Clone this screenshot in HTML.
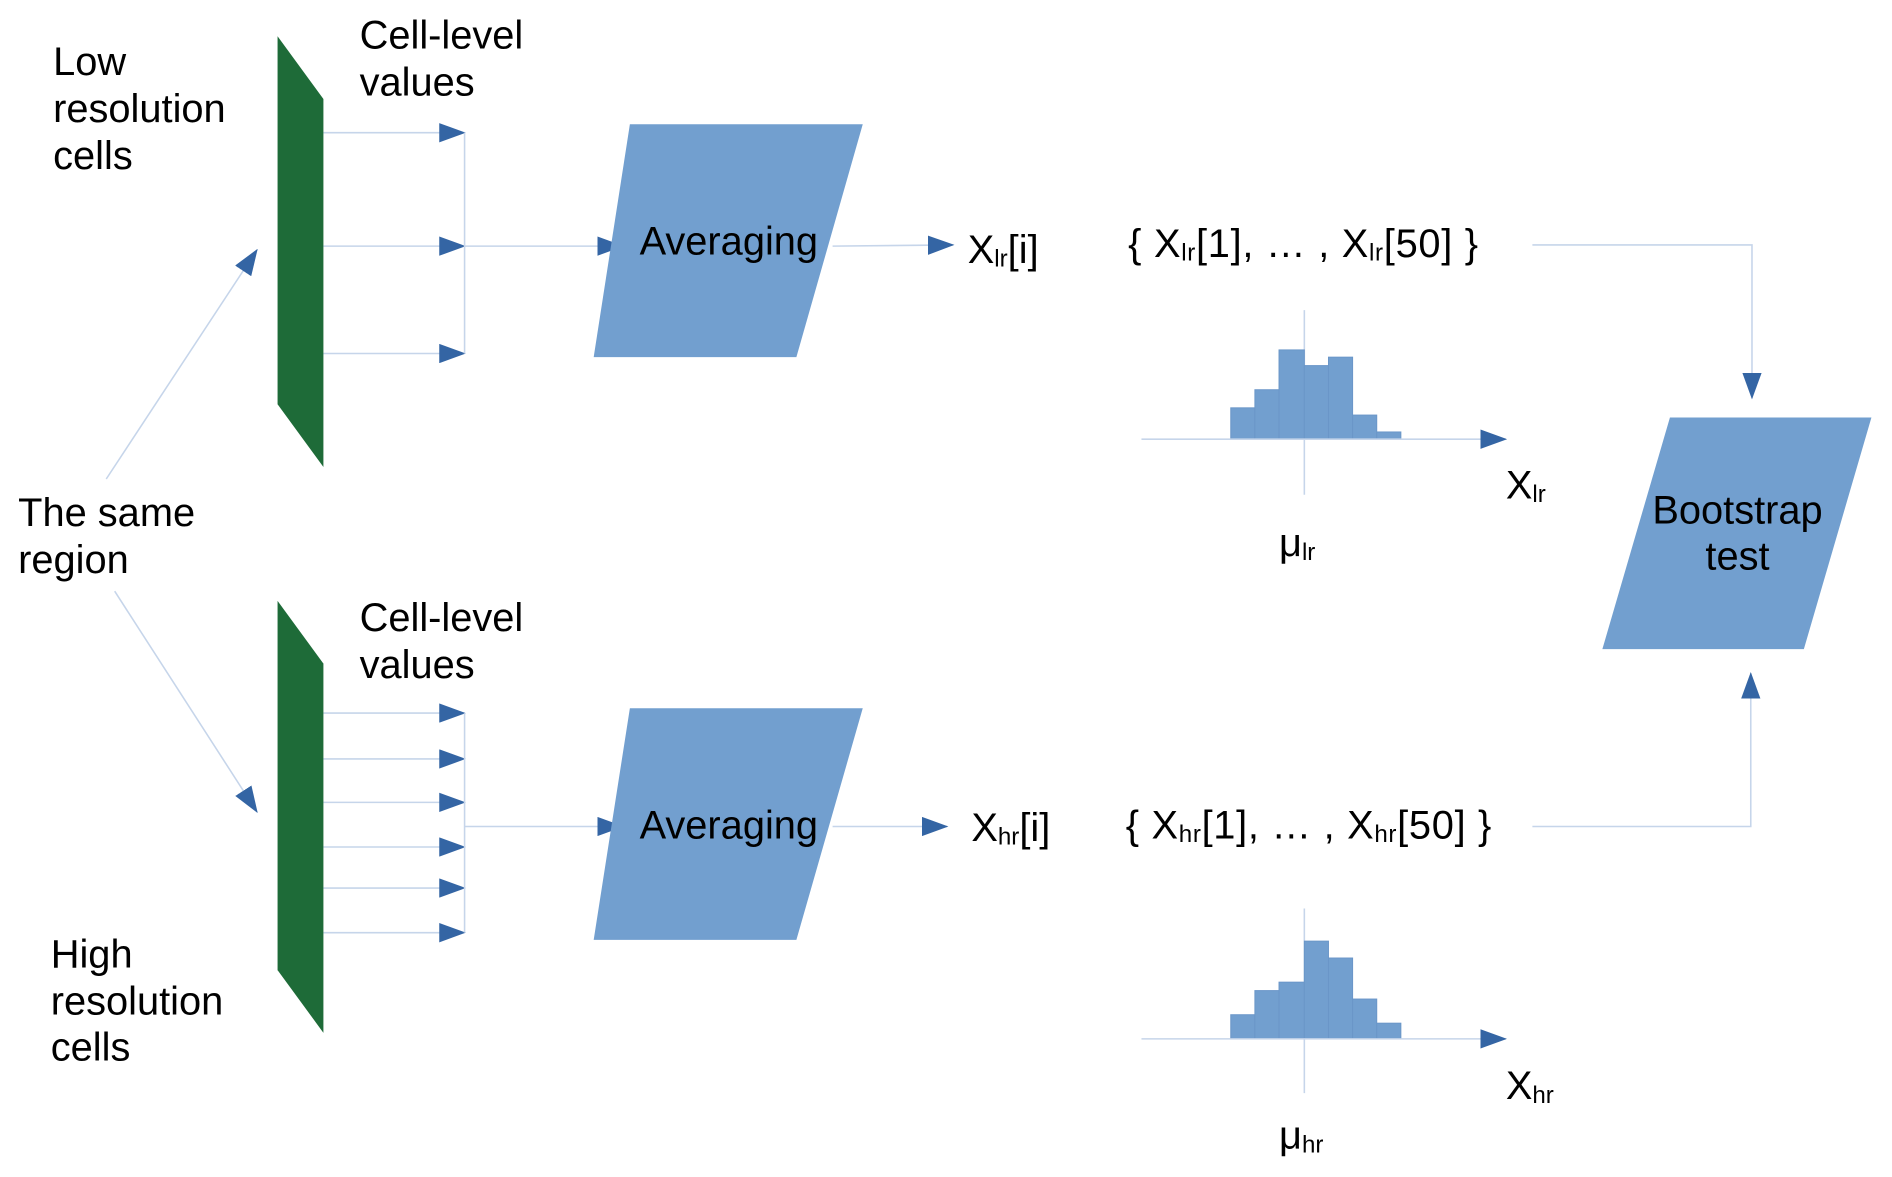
<!DOCTYPE html>
<html><head><meta charset="utf-8"><style>html,body{margin:0;padding:0;background:#fff}svg{display:block}text{font-family:"Liberation Sans",sans-serif;fill:#000}</style></head>
<body>
<svg width="1892" height="1177" viewBox="0 0 1568 975.5" xmlns="http://www.w3.org/2000/svg">
<defs>
<marker id="a" markerWidth="22" markerHeight="16" refX="21" refY="8" orient="auto" markerUnits="userSpaceOnUse"><path d="M0,0 L22,8 L0,16 Z" fill="#3465a4"/></marker>
</defs>
<g stroke="#c6d5ea" stroke-width="1.3" fill="none">
<line x1="268" y1="110" x2="385" y2="110" marker-end="url(#a)"/>
<line x1="268" y1="204" x2="385" y2="204" marker-end="url(#a)"/>
<line x1="268" y1="293" x2="385" y2="293" marker-end="url(#a)"/>
<line x1="385" y1="110" x2="385" y2="293"/>
<line x1="385" y1="204" x2="516" y2="204" marker-end="url(#a)"/>
<line x1="690" y1="204" x2="790" y2="203" marker-end="url(#a)"/>
<polyline points="1270,203 1452,203 1452,330" marker-end="url(#a)"/>
<line x1="88" y1="397" x2="213" y2="207" marker-end="url(#a)"/>
<line x1="268" y1="591" x2="385" y2="591" marker-end="url(#a)"/>
<line x1="268" y1="629" x2="385" y2="629" marker-end="url(#a)"/>
<line x1="268" y1="665" x2="385" y2="665" marker-end="url(#a)"/>
<line x1="268" y1="702" x2="385" y2="702" marker-end="url(#a)"/>
<line x1="268" y1="736" x2="385" y2="736" marker-end="url(#a)"/>
<line x1="268" y1="773" x2="385" y2="773" marker-end="url(#a)"/>
<line x1="385" y1="591" x2="385" y2="773"/>
<line x1="385" y1="685" x2="516" y2="685" marker-end="url(#a)"/>
<line x1="690" y1="685" x2="785" y2="685" marker-end="url(#a)"/>
<polyline points="1270,685 1451,685 1451,558" marker-end="url(#a)"/>
<line x1="95" y1="490" x2="213" y2="673" marker-end="url(#a)"/>
<line x1="1081" y1="257" x2="1081" y2="410"/>
<line x1="1081" y1="753" x2="1081" y2="906"/>
</g>
<polygon points="230,30 268,82 268,387 230,335" fill="#1e6b38"/>
<polygon points="230,498 268,550 268,856 230,804" fill="#1e6b38"/>
<polygon points="522,103 715,103 660,296 492,296" fill="#729fcf"/>
<polygon points="522,587 715,587 660,779 492,779" fill="#729fcf"/>
<polygon points="1384,346 1551,346 1495,538 1328,538" fill="#729fcf"/>
<g fill="#729fcf" stroke="#6a96c8" stroke-width="0.8">
<rect x="1020" y="338" width="20" height="26"/><rect x="1040" y="323" width="20" height="41"/><rect x="1060" y="290" width="21" height="74"/><rect x="1081" y="303" width="20" height="61"/><rect x="1101" y="296" width="20" height="68"/><rect x="1121" y="344" width="20" height="20"/><rect x="1141" y="358" width="20" height="6"/>
<rect x="1020" y="841" width="20" height="20"/><rect x="1040" y="821" width="20" height="40"/><rect x="1060" y="814" width="21" height="47"/><rect x="1081" y="780" width="20" height="81"/><rect x="1101" y="794" width="20" height="67"/><rect x="1121" y="828" width="20" height="33"/><rect x="1141" y="848" width="20" height="13"/>
</g>
<g stroke="#c6d5ea" stroke-width="1.3" fill="none">
<line x1="946" y1="364" x2="1248" y2="364" marker-end="url(#a)"/>
<line x1="946" y1="861" x2="1248" y2="861" marker-end="url(#a)"/>
</g>
<g font-size="33">
<text x="44" y="62">Low</text><text x="44" y="101">resolution</text><text x="44" y="140">cells</text>
<text x="298" y="40">Cell-level</text><text x="298" y="79">values</text>
<text x="15" y="436">The same</text><text x="15" y="475">region</text>
<text x="298" y="523">Cell-level</text><text x="298" y="562">values</text>
<text x="42" y="802">High</text><text x="42" y="841">resolution</text><text x="42" y="879">cells</text>
<text x="604" y="211" text-anchor="middle">Averaging</text>
<text x="604" y="695" text-anchor="middle">Averaging</text>
<text x="1440" y="434" text-anchor="middle">Bootstrap</text>
<text x="1440" y="472" text-anchor="middle">test</text>
<text x="802" y="218">X<tspan font-size="20" dy="3">lr</tspan><tspan dy="-3">[i]</tspan></text>
<text x="805" y="697">X<tspan font-size="20" dy="3">hr</tspan><tspan dy="-3">[i]</tspan></text>
<text x="935" y="213" textLength="290" lengthAdjust="spacing">{ X<tspan font-size="20" dy="3">lr</tspan><tspan dy="-3">[1], … , X</tspan><tspan font-size="20" dy="3">lr</tspan><tspan dy="-3">[50] }</tspan></text>
<text x="933" y="695" textLength="303" lengthAdjust="spacing">{ X<tspan font-size="20" dy="3">hr</tspan><tspan dy="-3">[1], … , X</tspan><tspan font-size="20" dy="3">hr</tspan><tspan dy="-3">[50] }</tspan></text>
<text x="1248" y="413">X<tspan font-size="20" dy="3">lr</tspan></text>
<text x="1248" y="911">X<tspan font-size="20" dy="3">hr</tspan></text>
<text x="1060" y="461">μ<tspan font-size="20" dy="3">lr</tspan></text>
<text x="1060" y="952">μ<tspan font-size="20" dy="3">hr</tspan></text>
</g>
</svg>
</body></html>
